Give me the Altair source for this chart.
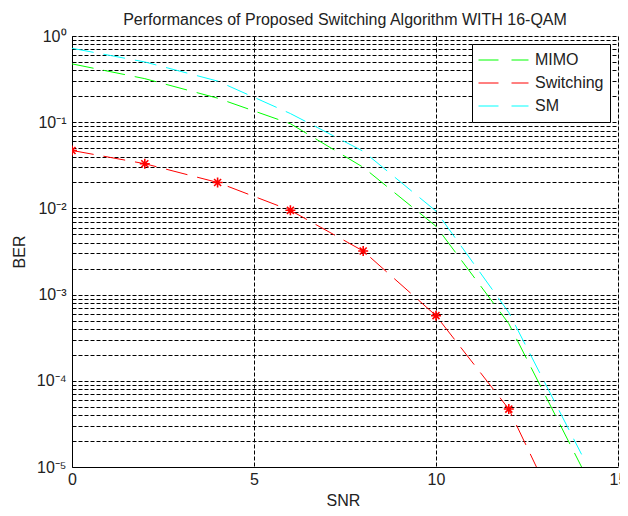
import json
import altair as alt
import pandas as pd

# ---- data ----
snr = [0, 2, 4, 6, 8, 10, 12, 14]
ber_mimo = [0.475, 0.32, 0.19, 0.096, 0.030, 0.0062, 4.6e-4, 1.0e-5]
ber_switching = [0.047, 0.033, 0.020, 0.0095, 0.0032, 5.7e-4, 4.7e-5, 8e-7]
ber_sm = [0.72, 0.50, 0.30, 0.126, 0.046, 0.0093, 6.2e-4, 1.4e-5]

series_names = ["MIMO", "Switching", "SM"]
series_colors = ["#00ff00", "#ff0000", "#00ffff"]
x_ticks = [0, 5, 10, 15]
y_decade_labels = ["10⁰", "10⁻¹", "10⁻²", "10⁻³", "10⁻⁴", "10⁻⁵"]
y_grid_values = [m * 10.0 ** k for k in range(-5, 0) for m in range(1, 10)] + [1.0]

rows = []
for name, vals in zip(series_names, [ber_mimo, ber_switching, ber_sm]):
    for s, b in zip(snr, vals):
        rows.append({"snr": s, "ber": b, "series": name})
df = pd.DataFrame(rows)

FONT = "Liberation Sans"
TXT = "#222222"

STAR = "M0,-1L0,1M-1,0L1,0M-0.7,-0.7L0.7,0.7M-0.7,0.7L0.7,-0.7"

x_scale = alt.Scale(domain=[0, 15], nice=False, zero=False)
y_scale = alt.Scale(type="log", domain=[1e-5, 1], nice=False)
color_scale = alt.Scale(domain=series_names, range=series_colors)

label_expr = (
    "abs(log(datum.value)/LN10 - round(log(datum.value)/LN10)) < 0.001 ? "
    + json.dumps(y_decade_labels)
    + "[-round(log(datum.value)/LN10)] : ''"
)

grid_common = dict(grid=True, gridColor="black", gridDash=[4, 2], gridWidth=1,
                   gridOpacity=1, ticks=False, domainColor="black", domainWidth=1,
                   labelFont=FONT, labelFontSize=16, labelColor=TXT,
                   titleFont=FONT, titleFontSize=16, titleFontWeight="normal",
                   titleColor=TXT)

x_axis = alt.Axis(values=x_ticks, format="d", labelFlush=False, labelPadding=4,
                  title="SNR", titleX=271, titleY=33, titleAlign="center",
                  titleBaseline="middle", **grid_common)
y_axis = alt.Axis(values=y_grid_values, labelExpr=label_expr, labelOverlap=False,
                  labelPadding=6, title="BER", titleX=-53, titleY=215.5,
                  titleAngle=270, titleAlign="center", titleBaseline="middle",
                  **grid_common)

legend = alt.Legend(orient="none", legendX=400, legendY=8, title=None,
                    padding=6, fillColor="white", strokeColor="black",
                    cornerRadius=0, symbolType="stroke", symbolSize=2500,
                    symbolStrokeWidth=1, symbolDash=[20, 13], symbolOpacity=1,
                    clipHeight=20, rowPadding=3, labelOffset=6,
                    labelFont=FONT, labelFontSize=16, labelColor=TXT, labelLimit=0)

lines = alt.Chart(df).mark_line(strokeWidth=1, strokeDash=[22, 10], clip=True).encode(
    x=alt.X("snr:Q", scale=x_scale, axis=x_axis),
    y=alt.Y("ber:Q", scale=y_scale, axis=y_axis),
    color=alt.Color("series:N", scale=color_scale, legend=legend),
)

markers = alt.Chart(df).transform_filter(alt.datum.series == "Switching").mark_point(
    shape=STAR, size=100, filled=False, strokeWidth=1.6, opacity=1, clip=True,
    color="#ff0000"
).encode(x="snr:Q", y="ber:Q")

chart = alt.layer(lines, markers).properties(
    width=546, height=431,
    autosize=alt.AutoSizeParams(type="none"),
    padding={"left": 64, "top": 28, "right": 2, "bottom": 41},
    title=alt.Title("Performances of Proposed Switching Algorithm WITH 16-QAM",
                    font=FONT, fontSize=16, fontWeight="normal", color=TXT,
                    anchor="middle", frame="group", offset=-13,
                    baseline="alphabetic"),
).configure_view(stroke="black", strokeWidth=1).configure(background="white")

chart.save("out.html", embed_options={"renderer": "svg", "actions": False})
